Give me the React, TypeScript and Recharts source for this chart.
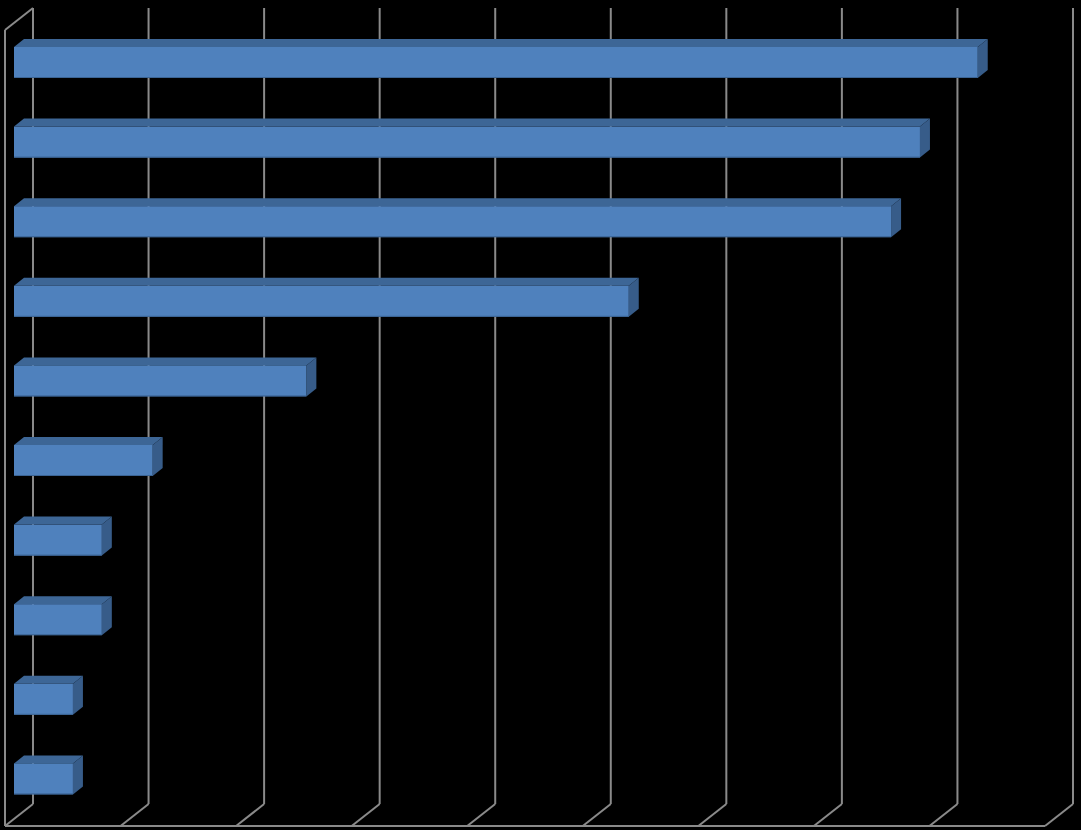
import React from 'react';
import { BarChart, Bar, XAxis, YAxis, CartesianGrid } from 'recharts';

const categories = ['A', 'B', 'C', 'D', 'E', 'F', 'G', 'H', 'I', 'J'];
const values = [83.4, 78.4, 75.9, 53.2, 25.3, 12.0, 7.6, 7.6, 5.1, 5.1];
const xTicks = [0, 10, 20, 30, 40, 50, 60, 70, 80, 90];

const data = categories.map((name, i) => ({ name, value: values[i] }));

const GRID = '#8a8a8a';
const DEPTH_X = 28;
const DEPTH_Y = 22;
const BAR_OFF_X = 9;
const BAR_OFF_Y = 7;
const BAR_DX = 10;
const BAR_DY = 8;

function Bar3D(props: any) {
  const { x, y, width, height } = props;
  if (width == null || height == null) return null;
  const fx = x + BAR_OFF_X;
  const fy = y - BAR_OFF_Y;
  const top = `${fx},${fy} ${fx + BAR_DX},${fy - BAR_DY} ${fx + width + BAR_DX},${fy - BAR_DY} ${fx + width},${fy}`;
  const side = `${fx + width},${fy} ${fx + width + BAR_DX},${fy - BAR_DY} ${fx + width + BAR_DX},${fy + height - BAR_DY} ${fx + width},${fy + height}`;
  return (
    <g>
      <polygon points={top} fill="#3d6696" />
      <polygon points={side} fill="#375c89" />
      <rect x={fx} y={fy} width={width} height={height} fill="#4f81bd" />
      <line x1={fx} y1={fy + height - 0.5} x2={fx + width} y2={fy + height - 0.5} stroke="#3b6494" strokeWidth={1} />
    </g>
  );
}

function GridLine(props: any) {
  const { x1, y1, y2, index } = props;
  const bx = x1 + DEPTH_X;
  return (
    <g key={`gl-${index}`}>
      <line x1={bx} y1={y1 - DEPTH_Y} x2={bx} y2={y2 - DEPTH_Y} stroke={GRID} strokeWidth={2} />
      <line x1={bx} y1={y2 - DEPTH_Y} x2={x1} y2={y2} stroke={GRID} strokeWidth={2} />
      {index === 0 && (
        <line x1={x1} y1={y1} x2={bx} y2={y1 - DEPTH_Y} stroke={GRID} strokeWidth={2} />
      )}
    </g>
  );
}

export default function App() {
  return (
    <div style={{ position: 'absolute', left: 0, top: 0, width: 1081, height: 830, background: '#000' }}>
      <BarChart
        width={1081}
        height={830}
        data={data}
        layout="vertical"
        margin={{ top: 30, right: 36, bottom: 3, left: 4 }}
        barSize={31}
      >
        <CartesianGrid horizontal={false} vertical={(p: any) => <GridLine {...p} />} />
        <XAxis
          type="number"
          domain={[0, 90]}
          ticks={xTicks}
          interval={0}
          height={1}
          tick={() => <g />}
          tickLine={false}
          axisLine={{ stroke: GRID, strokeWidth: 2 }}
        />
        <YAxis
          type="category"
          dataKey="name"
          width={1}
          tick={() => <g />}
          tickLine={false}
          axisLine={{ stroke: GRID, strokeWidth: 2 }}
        />
        <Bar dataKey="value" isAnimationActive={false} shape={(p: any) => <Bar3D {...p} />} />
      </BarChart>
    </div>
  );
}
